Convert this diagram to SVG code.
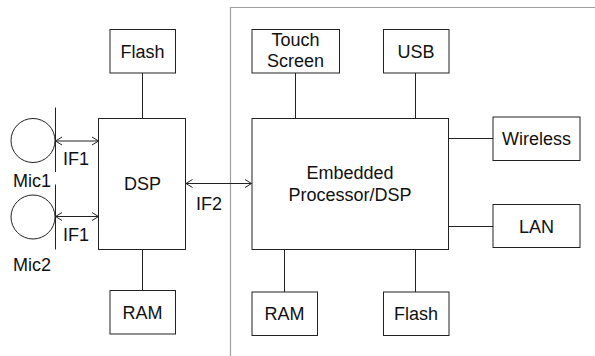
<svg xmlns="http://www.w3.org/2000/svg" width="595" height="356" viewBox="0 0 595 356">
<defs>
<style>
.box{fill:#fff;stroke:#222;stroke-width:1}
.ln{fill:none;stroke:#222;stroke-width:1}
.t{font-family:"Liberation Sans",Arial,sans-serif;font-size:18px;fill:#111;text-anchor:middle}
.tl{font-family:"Liberation Sans",Arial,sans-serif;font-size:18px;fill:#111}
</style>
<marker id="arr" viewBox="0 0 8 10" refX="7.5" refY="5" markerWidth="8" markerHeight="10" markerUnits="userSpaceOnUse" orient="auto-start-reverse">
<path d="M1,1 L7.5,5 L1,9" fill="none" stroke="#222" stroke-width="1"/>
</marker>
</defs>
<rect width="595" height="356" fill="#fff"/>
<path d="M230.5,356 V7.5 H595" fill="none" stroke="#a0a0a0" stroke-width="1.2"/>
<g id="connectors">
<line class="ln" x1="142.5" y1="73" x2="142.5" y2="118.5"/>
<line class="ln" x1="142.5" y1="249" x2="142.5" y2="290.5"/>
<line class="ln" x1="295.5" y1="73" x2="295.5" y2="118.5"/>
<line class="ln" x1="415.5" y1="73" x2="415.5" y2="118.5"/>
<line class="ln" x1="449" y1="138.5" x2="493" y2="138.5"/>
<line class="ln" x1="449" y1="226.5" x2="493" y2="226.5"/>
<line class="ln" x1="284.5" y1="249" x2="284.5" y2="292"/>
<line class="ln" x1="415.5" y1="249" x2="415.5" y2="292"/>
<line class="ln" x1="55.5" y1="141" x2="98.5" y2="141" marker-start="url(#arr)" marker-end="url(#arr)"/>
<line class="ln" x1="55.5" y1="216.5" x2="98.5" y2="216.5" marker-start="url(#arr)" marker-end="url(#arr)"/>
<line class="ln" x1="186" y1="183.5" x2="251.5" y2="183.5" marker-start="url(#arr)" marker-end="url(#arr)"/>
<text class="tl" x="63" y="164.5">IF1</text>
<text class="tl" x="63" y="240.5">IF1</text>
<text class="tl" x="196" y="209.5">IF2</text>
</g>
<g id="mic1">
<circle class="ln" cx="33" cy="140.5" r="22"/>
<line class="ln" x1="55.5" y1="107.5" x2="55.5" y2="172"/>
<text class="tl" x="13" y="187">Mic1</text>
</g>
<g id="mic2">
<circle class="ln" cx="33" cy="217" r="22"/>
<line class="ln" x1="55.5" y1="184.5" x2="55.5" y2="249.5"/>
<text class="tl" x="13" y="271">Mic2</text>
</g>
<g id="dsp">
<rect class="box" x="98.5" y="118.5" width="87" height="131"/>
<text class="t" x="142.5" y="190">DSP</text>
</g>
<g id="flash1">
<rect class="box" x="110" y="29.5" width="65.5" height="43.5"/>
<text class="t" x="142.5" y="57.5">Flash</text>
</g>
<g id="ram1">
<rect class="box" x="110" y="290.5" width="65.5" height="43.5"/>
<text class="t" x="142.5" y="318.5">RAM</text>
</g>
<g id="processor">
<rect class="box" x="252" y="118.5" width="196.5" height="131"/>
<text class="t" x="350" y="179">Embedded</text>
<text class="t" x="350" y="200.5">Processor/DSP</text>
</g>
<g id="touch">
<rect class="box" x="252" y="29.5" width="87.5" height="43.5"/>
<text class="t" x="295.5" y="46">Touch</text>
<text class="t" x="295.5" y="67">Screen</text>
</g>
<g id="usb">
<rect class="box" x="383.5" y="29.5" width="65.5" height="43.5"/>
<text class="t" x="416" y="57.5">USB</text>
</g>
<g id="wireless">
<rect class="box" x="493" y="117" width="87" height="43.5"/>
<text class="t" x="536.5" y="145">Wireless</text>
</g>
<g id="lan">
<rect class="box" x="493" y="204.5" width="87" height="43"/>
<text class="t" x="536.5" y="232.5">LAN</text>
</g>
<g id="ram2">
<rect class="box" x="252" y="292" width="65.5" height="43.5"/>
<text class="t" x="284.5" y="320">RAM</text>
</g>
<g id="flash2">
<rect class="box" x="383.5" y="292" width="65.5" height="43.5"/>
<text class="t" x="416" y="320">Flash</text>
</g>
</svg>
